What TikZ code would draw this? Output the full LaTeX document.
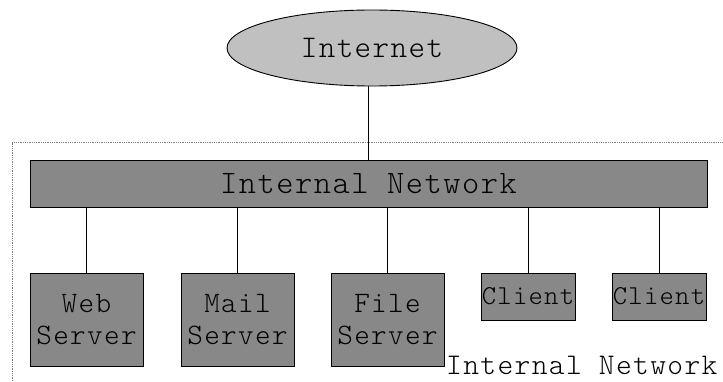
\documentclass[tikz,border=0pt]{standalone}
\usepackage{fontspec}
\setmainfont[LetterSpace=4.6]{Latin Modern Mono Light}
\usetikzlibrary{shapes.geometric}
\definecolor{boxgray}{HTML}{888888}
\definecolor{cloudgray}{HTML}{C0C0C0}
\begin{document}
\begin{tikzpicture}[x=1pt,y=-1pt,
  box/.style={draw=black, line width=0.9pt, fill=boxgray, inner sep=0pt, align=center},
  server/.style={box, minimum width=113pt, minimum height=93pt, font=\fontsize{29.7}{32}\selectfont},
  clientbox/.style={box, minimum width=94pt, minimum height=47pt, font=\fontsize{27.3}{30}\selectfont},
  link/.style={draw=black, line width=0.9pt}]
\useasboundingbox (0,0) rectangle (723,382);
% cluster border
\coordinate (cbl) at (12,390);
\coordinate (ctl) at (12,142);
\coordinate (ctr) at (730,142);
\draw[gray, line width=0.8pt, densely dotted] (cbl) -- (ctl) -- (ctr);
\node[anchor=base west, inner sep=0pt, font=\fontsize{30}{32}\selectfont] (clabel) at (446,374) {Internal Network};
% nodes
\node[ellipse, draw=black, line width=0.9pt, fill=cloudgray, minimum width=290pt, minimum height=76pt, inner sep=0pt, font=\fontsize{31.5}{34}\selectfont] (inet) at (372,48) {Internet};
\node[box, minimum width=677pt, minimum height=47pt, font=\fontsize{32.8}{34}\selectfont] (bar) at (368.5,184) {Internal Network};
\node[server] (web) at (86.5,319.5) {Web\\Server};
\node[server] (mail) at (237.5,319.5) {Mail\\Server};
\node[server] (file) at (387.5,319.5) {File\\Server};
\node[clientbox] (c1) at (528,296.5) {Client};
\node[clientbox] (c2) at (659,296.5) {Client};
% connectors
\draw[link] ([xshift=-4pt]inet.south) -- ([xshift=-4pt]inet.south |- bar.north);
\foreach \n in {web,mail,file,c1,c2}
  \draw[link] (bar.south -| \n.north) -- (\n.north);
\end{tikzpicture}
\end{document}
